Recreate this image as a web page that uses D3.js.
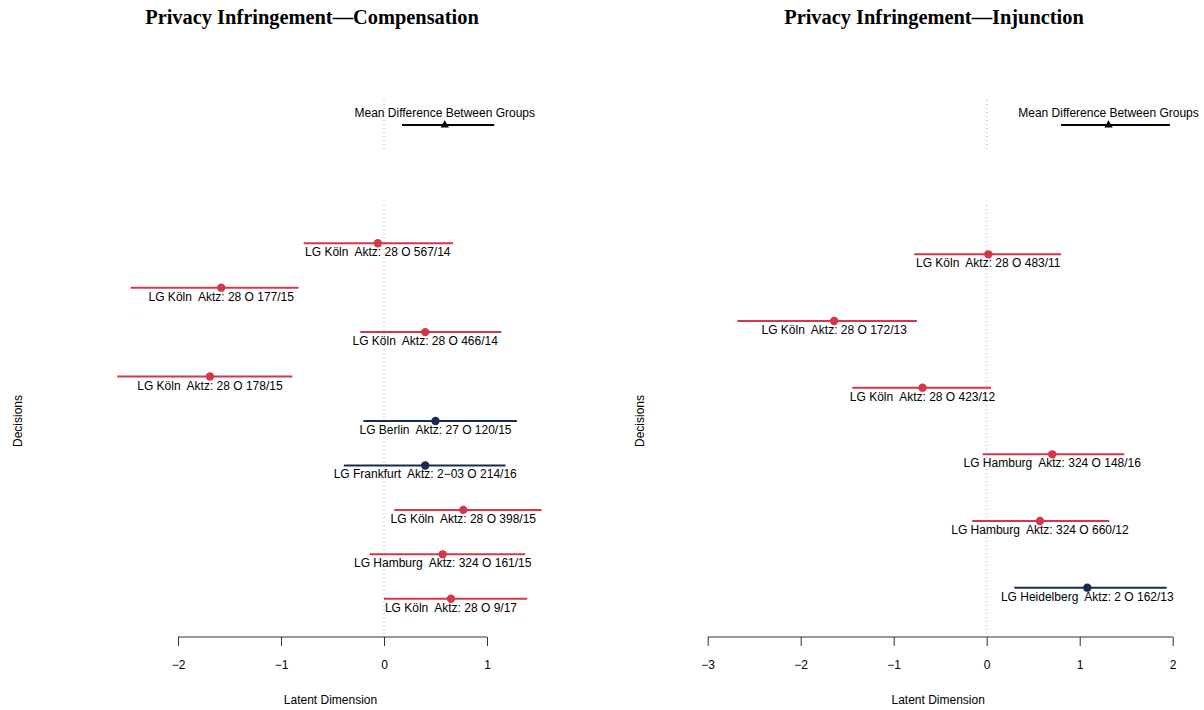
<!DOCTYPE html>
<html>
<head>
<meta charset="utf-8">
<script src="https://cdn.jsdelivr.net/npm/d3@7"></script>
<style>
  html, body { margin: 0; padding: 0; background: #fff; }
  svg { display: block; }
  text { font-family: "Liberation Sans", Arial, Helvetica, sans-serif; fill: #000; white-space: pre; }
  .title { font-family: "Liberation Serif", "Times New Roman", serif; font-weight: bold; }
</style>
</head>
<body>
<script>
// Compensation decisions (top to bottom)
const compLabels = [
  "LG Köln  Aktz: 28 O 567/14",
  "LG Köln  Aktz: 28 O 177/15",
  "LG Köln  Aktz: 28 O 466/14",
  "LG Köln  Aktz: 28 O 178/15",
  "LG Berlin  Aktz: 27 O 120/15",
  "LG Frankfurt  Aktz: 2\u221203 O 214/16",
  "LG Köln  Aktz: 28 O 398/15",
  "LG Hamburg  Aktz: 324 O 161/15",
  "LG Köln  Aktz: 28 O 9/17"
];
const compEst   = [-0.06, -1.58, 0.40, -1.69, 0.50, 0.40, 0.77, 0.57, 0.65];
const compLower = [-0.78, -2.46, -0.23, -2.59, -0.20, -0.39, 0.10, -0.14, 0.00];
const compUpper = [0.67, -0.83, 1.14, -0.89, 1.29, 1.18, 1.53, 1.37, 1.39];
const compGroup = ["a", "a", "a", "a", "b", "b", "a", "a", "a"];
const compMean  = { est: 0.59, lower: 0.175, upper: 1.07 };
const compTicks = [-2, -1, 0, 1];

// Injunction decisions (top to bottom)
const injLabels = [
  "LG Köln  Aktz: 28 O 483/11",
  "LG Köln  Aktz: 28 O 172/13",
  "LG Köln  Aktz: 28 O 423/12",
  "LG Hamburg  Aktz: 324 O 148/16",
  "LG Hamburg  Aktz: 324 O 660/12",
  "LG Heidelberg  Aktz: 2 O 162/13"
];
const injEst   = [0.017, -1.64, -0.69, 0.705, 0.573, 1.082];
const injLower = [-0.78, -2.68, -1.445, -0.043, -0.155, 0.297];
const injUpper = [0.80, -0.75, 0.046, 1.48, 1.318, 1.935];
const injGroup = ["a", "a", "a", "a", "a", "b"];
const injMean  = { est: 1.31, lower: 0.80, upper: 1.97 };
const injTicks = [-3, -2, -1, 0, 1, 2];

const groupColor = { a: "#d4374b", b: "#182c4f" };

const W = 1204, H = 710;
const svg = d3.select("body").append("svg").attr("width", W).attr("height", H);

const regionTop = 205, regionBottom = 637;
const meanTop = 100, meanBottom = 150;

function panel(opts) {
  const { title, titleX, xDomain, xRange, labels, est, lower, upper, group, mean, ticks, ylabX } = opts;
  const g = svg.append("g");
  const x = d3.scaleLinear().domain(xDomain).range(xRange);
  const n = labels.length;
  // 4% padding around the interval [0.5, n + 0.5]
  const pad = n * 0.04;
  const y = d3.scaleLinear().domain([0.5 - pad, n + 0.5 + pad]).range([regionBottom, regionTop]);
  const yMean = d3.scaleLinear().domain([0, 1]).range([meanBottom, meanTop]);

  // title
  g.append("text").attr("class", "title")
    .attr("x", titleX).attr("y", 24)
    .attr("text-anchor", "middle").attr("font-size", 20.4)
    .text(title);

  // zero reference lines
  g.append("line")
    .attr("x1", x(0)).attr("x2", x(0)).attr("y1", meanTop).attr("y2", meanBottom)
    .attr("stroke", "#aaa").attr("stroke-width", 1).attr("stroke-dasharray", "1,3");
  g.append("line")
    .attr("x1", x(0)).attr("x2", x(0)).attr("y1", regionTop).attr("y2", regionBottom)
    .attr("stroke", "#aaa").attr("stroke-width", 1).attr("stroke-dasharray", "1,3");

  // mean difference between groups
  const my = yMean(0.5);
  g.append("line")
    .attr("x1", x(mean.lower)).attr("x2", x(mean.upper)).attr("y1", my).attr("y2", my)
    .attr("stroke", "#000").attr("stroke-width", 2);
  const tri = d3.symbol().type(d3.symbolTriangle).size(30);
  g.append("path").attr("d", tri())
    .attr("transform", `translate(${x(mean.est)},${my})`)
    .attr("fill", "#000");
  g.append("text")
    .attr("x", x(mean.est)).attr("y", my - 8.5)
    .attr("text-anchor", "middle").attr("font-size", 12)
    .text("Mean Difference Between Groups");

  // decisions
  const rows = labels.map((l, i) => ({
    label: l, est: est[i], lower: lower[i], upper: upper[i], group: group[i], pos: n - i
  }));
  const r = g.selectAll("g.row").data(rows).enter().append("g").attr("class", "row");
  r.append("line")
    .attr("x1", d => x(d.lower)).attr("x2", d => x(d.upper))
    .attr("y1", d => y(d.pos)).attr("y2", d => y(d.pos))
    .attr("stroke", d => groupColor[d.group]).attr("stroke-width", 2);
  r.append("circle")
    .attr("cx", d => x(d.est)).attr("cy", d => y(d.pos)).attr("r", 4.2)
    .attr("fill", d => groupColor[d.group]);
  r.append("text")
    .attr("x", d => x(d.est)).attr("y", d => y(d.pos) + 13)
    .attr("text-anchor", "middle").attr("font-size", 12)
    .text(d => d.label);

  // x axis
  const axis = g.append("g")
    .attr("transform", `translate(0,${regionBottom})`)
    .call(d3.axisBottom(x).tickValues(ticks).tickSize(9).tickPadding(14)
      .tickFormat(d => d < 0 ? "\u2212" + Math.abs(d) : String(d)));
  axis.select(".domain").attr("stroke", "#333").attr("d",
    `M${x(ticks[0])},0H${x(ticks[ticks.length - 1])}`);
  axis.selectAll(".tick line").attr("stroke", "#333");
  axis.selectAll(".tick text").attr("font-size", 12).attr("fill", "#000")
    .attr("font-family", "Liberation Sans, Arial, sans-serif");

  g.append("text")
    .attr("x", (xRange[0] + xRange[1]) / 2 - 2).attr("y", 704)
    .attr("text-anchor", "middle").attr("font-size", 12)
    .text("Latent Dimension");

  g.append("text")
    .attr("transform", `translate(${ylabX},${(regionTop + regionBottom) / 2}) rotate(-90)`)
    .attr("text-anchor", "middle").attr("font-size", 12)
    .text("Decisions");
}

panel({
  title: "Privacy Infringement\u2014Compensation", titleX: 312,
  xDomain: [-2, 1], xRange: [178, 487],
  labels: compLabels, est: compEst, lower: compLower, upper: compUpper, group: compGroup,
  mean: compMean, ticks: compTicks, ylabX: 22
});

panel({
  title: "Privacy Infringement\u2014Injunction", titleX: 934,
  xDomain: [-3, 2], xRange: [707.7, 1172.7],
  labels: injLabels, est: injEst, lower: injLower, upper: injUpper, group: injGroup,
  mean: injMean, ticks: injTicks, ylabX: 644
});
</script>
</body>
</html>
